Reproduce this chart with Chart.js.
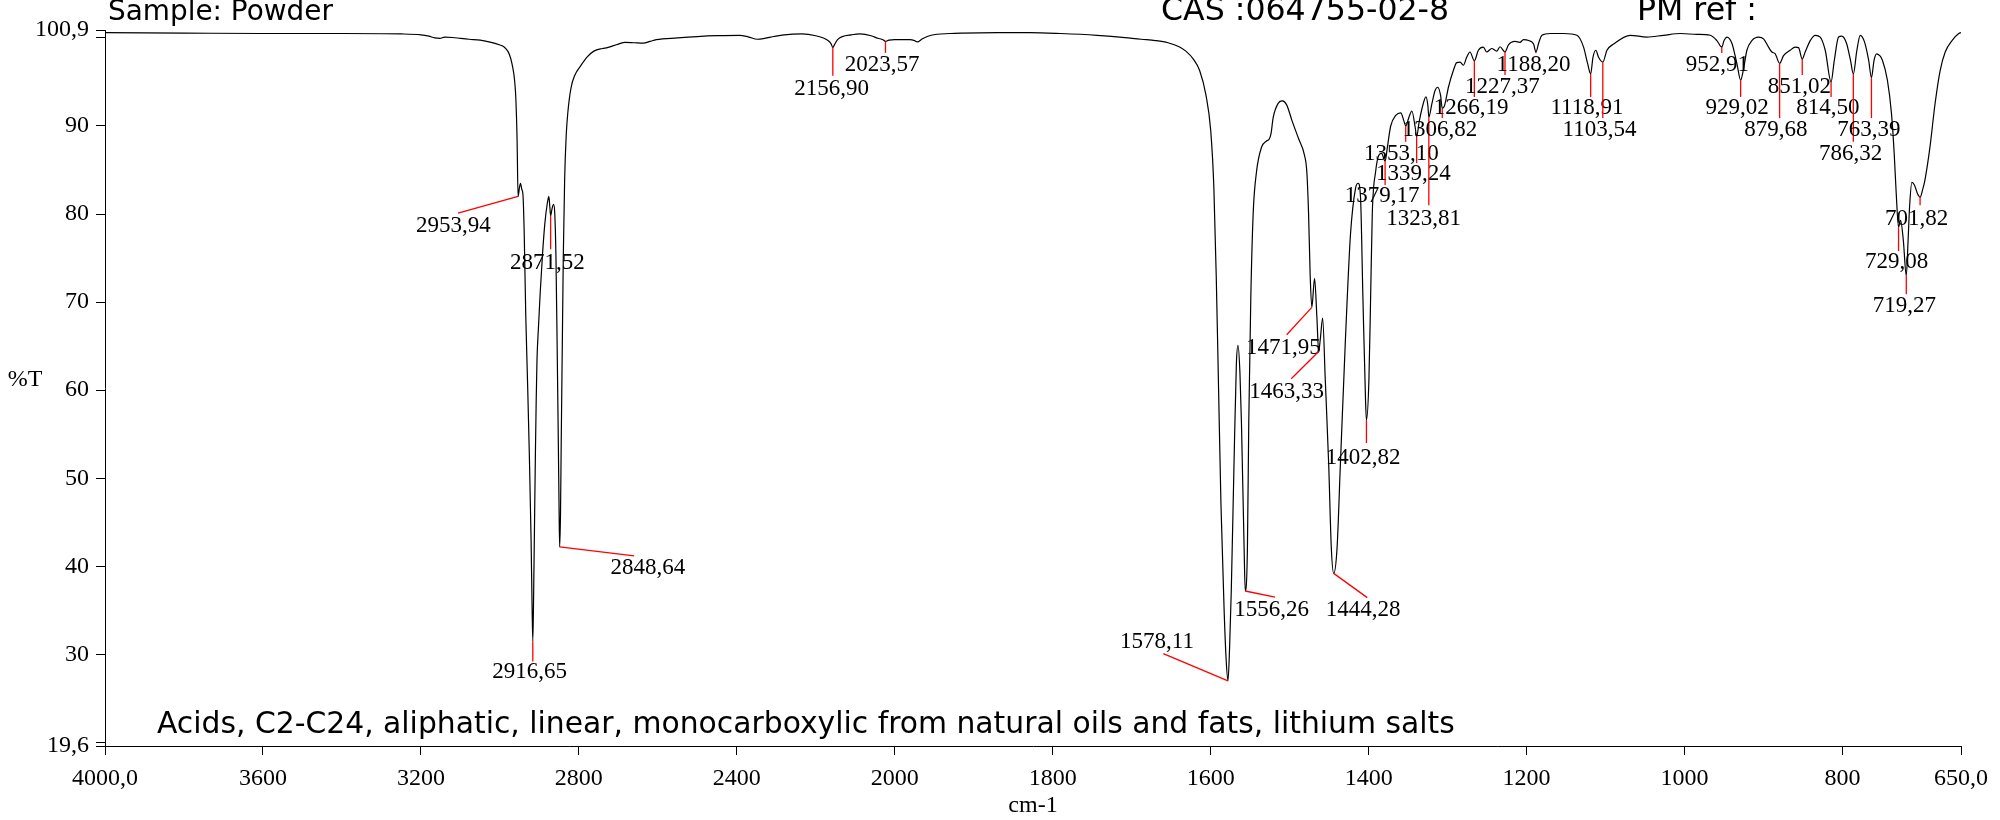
<!DOCTYPE html>
<html>
<head>
<meta charset="utf-8">
<script src="https://cdn.jsdelivr.net/npm/chart.js@4.4.0/dist/chart.umd.min.js"></script>
<style>
  html, body { margin: 0; padding: 0; background: #fff; }
  #c { display: block; }
</style>
</head>
<body>
<canvas id="c" width="2000" height="820"></canvas>
<script>
// IR spectrum (cm-1 / %T)
const WAVENUMBER = [
  4000, 3800, 3600, 3400, 3250, 3200, 3180, 3165, 3152, 3140, 3120, 3100, 3078, 3050, 3022, 3000,
  2990, 2980, 2975, 2970, 2965, 2962, 2959.5, 2956.5, 2953.94, 2950.5, 2947.8, 2944.5, 2941.6, 2938.5,
  2934.5, 2930, 2925.6, 2921, 2918.5, 2916.65, 2914.5, 2912, 2910, 2908, 2906, 2902.5, 2898, 2892,
  2886, 2880, 2876, 2873.5, 2871.52, 2868, 2864, 2861, 2858, 2855, 2852, 2850, 2848.64, 2846.5, 2844.5,
  2842, 2839.5, 2836, 2832, 2828, 2820, 2810, 2796, 2780, 2762, 2740, 2728, 2700, 2683, 2660, 2637,
  2620, 2604, 2550, 2500, 2450, 2393, 2370, 2348, 2330, 2314, 2280, 2235, 2200, 2179, 2166, 2161,
  2156.9, 2152, 2145, 2133, 2110, 2088, 2060, 2043, 2030, 2023.57, 2015, 2000, 1981, 1975, 1971.5,
  1965, 1954, 1930, 1914, 1870, 1829, 1790, 1744, 1715, 1688, 1670, 1654, 1640, 1631.5, 1622, 1614,
  1606, 1600, 1596, 1593, 1590, 1587, 1583, 1580.5, 1578.11, 1576, 1573.9, 1570.5, 1567.5, 1565.4,
  1563, 1561.1, 1557.7, 1556.26, 1553.5, 1551.8, 1549.2, 1546.2, 1542, 1535.6, 1529.3, 1526, 1523.7,
  1520.8, 1514.4, 1509.3, 1503.8, 1497.4, 1488.9, 1481.3, 1478.3, 1476.1, 1474, 1471.95, 1468.5,
  1465.5, 1463.33, 1461, 1458.3, 1454.9, 1450.6, 1447.3, 1444.28, 1440, 1435.8, 1429.4, 1423, 1416.7,
  1413.3, 1410.3, 1407.3, 1403.9, 1402.82, 1399.7, 1397.5, 1395.4, 1391.2, 1387, 1383.6, 1379.17,
  1376.3, 1372.1, 1365.7, 1359.3, 1355.1, 1353.1, 1349, 1345.3, 1341, 1339.24, 1336, 1331, 1327.5,
  1325, 1323.81, 1320, 1316, 1312.6, 1309, 1306.82, 1304, 1299, 1292.8, 1288.5, 1284.3, 1280.1,
  1275.9, 1271.7, 1266.19, 1261.1, 1254.8, 1250.6, 1244.2, 1237.9, 1233.7, 1227.37, 1223, 1214.7,
  1208.4, 1204, 1197.5, 1191.2, 1188.2, 1184.8, 1180.6, 1170, 1153, 1136.3, 1127.9, 1122.8, 1118.91,
  1116, 1112.4, 1108.9, 1103.54, 1098.3, 1089.9, 1068.8, 1047.7, 1026.6, 1005.5, 984.4, 967.6, 959.1,
  952.91, 950, 946.4, 940.1, 933.8, 929.02, 925.3, 921.1, 914.8, 906.3, 900, 893.7, 889.5, 885.2,
  879.68, 874.7, 866.3, 860, 855.7, 851.02, 847.3, 840.9, 834.6, 828.3, 821.9, 814.5, 810.5, 805, 801,
  795, 790, 786.32, 782, 777.6, 772, 767, 763.39, 760, 756.9, 753, 749.6, 743.2, 738, 734.6, 732,
  729.08, 726.5, 723, 719.27, 717, 715, 712.2, 709, 705, 701.82, 698.5, 695.8, 689.3, 682.9, 676.4,
  670, 661.4, 652.8, 650
];
const TRANSMITTANCE = [
  100.6, 100.55, 100.5, 100.5, 100.45, 100.35, 100.2, 100.0, 99.95, 100.1, 100.05, 99.95, 99.85, 99.75, 99.5, 99.2,
  99.0, 98.5, 98.0, 97.2, 96.0, 94.8, 93.0, 88.5, 82.0, 83.0, 83.5, 82.8, 82.2, 78.0,
  68.5, 61.0, 53.0, 43.0, 35.5, 31.5, 37.0, 46.0, 53.0, 59.0, 63.5, 67.0, 71.0, 75.5,
  79.0, 81.2, 82.0, 80.8, 79.8, 80.6, 81.1, 80.0, 75.0, 65.0, 54.0, 46.0, 42.2, 46.0, 55.0,
  65.0, 75.0, 84.0, 89.0, 91.5, 94.3, 95.8, 96.8, 97.8, 98.5, 98.8, 98.9, 99.3, 99.5, 99.45, 99.4,
  99.6, 99.8, 100.0, 100.15, 100.25, 100.3, 100.1, 99.85, 99.95, 100.1, 100.35, 100.45, 100.25, 99.96, 99.6, 99.3,
  98.9, 99.3, 99.8, 100.15, 100.35, 100.45, 100.25, 99.96, 99.8, 99.6, 99.75, 99.8, 99.8, 99.7, 99.55,
  99.9, 100.3, 100.5, 100.55, 100.6, 100.6, 100.5, 100.3, 100.1, 99.85, 99.7, 99.45, 99.0, 98.5, 97.6, 96.3,
  93.5, 89.5, 83.0, 73.0, 60.0, 47.0, 35.0, 29.5, 27.0, 31.0, 37.4, 51.6, 63.0, 65.1,
  62.0, 56.4, 42.1, 37.2, 42.1, 56.4, 70.6, 80.1, 84.8, 87.6, 88.3, 88.5, 89.1,
  91.0, 92.6, 92.85, 92.4, 90.7, 88.6, 86.7, 84.8, 80.1, 72.9, 69.4, 72.7,
  68.2, 64.4, 66.0, 68.2, 61.1, 51.6, 42.1, 39.2, 42.1, 51.6, 65.8, 77.7, 82.9,
  83.5, 81.9, 70.6, 58.7, 56.6, 61.1, 70.6, 80.1, 84.8, 86.7, 86.9, 86.0,
  87.6, 90.0, 91.2, 91.5, 90.5, 90.0, 91.0, 91.7, 89.8, 88.8, 90.5, 92.5, 93.3,
  92.3, 91.0, 92.5, 94.0, 94.4, 93.5, 92.0, 92.3, 94.4, 96.3, 97.2, 97.25, 96.9,
  97.8, 98.4, 97.4, 98.6, 98.96, 98.4, 98.8, 98.5, 99.0, 98.4, 99.2, 99.6,
  99.5, 99.8, 99.7, 99.3, 98.4, 99.4, 100.3, 100.5, 100.5, 100.3, 98.96, 97.1, 95.9,
  97.8, 98.6, 97.8, 97.25, 98.6, 99.3, 100.3, 100.1, 100.3, 100.5, 100.4, 100.3, 99.7,
  98.96, 99.7, 100.1, 99.4, 97.1, 95.2, 96.5, 98.6, 99.7, 100.1, 99.9, 98.96, 98.4, 98.2,
  97.1, 98.0, 98.6, 98.96, 98.9, 97.6, 98.4, 99.7, 100.3, 100.1, 98.6, 95.0, 97.4, 100.1, 100.2,
  99.4, 97.5, 95.9, 98.5, 100.3, 99.5, 97.5, 95.5, 97.5, 98.2, 98.0, 97.5, 95.2, 91.4, 86.9, 82.3,
  78.5, 79.3, 77.0, 73.0, 77.0, 81.0, 83.6, 83.3, 82.3, 81.9, 82.8, 83.8, 87.6, 92.5, 96.3,
  98.4, 99.7, 100.5, 100.6
];

// labelled peaks (cm-1)
const PEAKS = [
  2953.94, 2916.65, 2871.52, 2848.64, 2156.90, 2023.57, 1578.11, 1556.26, 1471.95, 1463.33, 1444.28,
  1402.82, 1379.17, 1353.10, 1339.24, 1323.81, 1306.82, 1266.19, 1227.37, 1188.20, 1118.91, 1103.54,
  952.91, 929.02, 879.68, 851.02, 814.50, 786.32, 763.39, 729.08, 719.27, 701.82
];

const X_TICKS = [4000, 3600, 3200, 2800, 2400, 2000, 1800, 1600, 1400, 1200, 1000, 800, 650];
const Y_TICKS = [100.9, 100, 90, 80, 70, 60, 50, 40, 30, 20, 19.6];

// leader line end + label centre for each peak, in cm-1 / %T (null = straight down)
const PEAK_LABEL_AT = [
  [3106, 80.1, 3118, 78.7], [null, 29.2, 2925, 28.0], [null, 76.0, 2880, 74.5], [2660, 41.2, 2625, 39.8],
  [null, 95.7, 2160, 94.2], [null, 98.3, 2032, 96.9], [1660, 30.1, 1668, 31.4], [1518.6, 36.5, 1523, 35.0],
  [1503.8, 66.3, 1508, 64.8], [1498, 61.3, 1504, 59.8], [1401.8, 36.45, 1407, 35.0], [null, 54.0, 1407, 52.3],
  [null, 83.3, 1383, 82.0], [null, 88.2, 1358.7, 86.8], [null, 85.8, 1343.5, 84.5], [null, 81.0, 1330.5, 79.5],
  [null, 90.9, 1309.7, 89.5], [null, 93.3, 1270.2, 92.0], [null, 95.8, 1230.7, 94.4], [null, 98.3, 1191.3, 96.9],
  [null, 93.3, 1123.6, 92.0], [null, 90.9, 1107.8, 89.5], [null, 98.3, 958.4, 96.9], [null, 93.3, 933.6, 92.0],
  [null, 90.9, 884.5, 89.5], [null, 95.8, 854.6, 94.4], [null, 93.3, 818.5, 92.0], [null, 88.2, 789.8, 86.8],
  [null, 90.9, 766.7, 89.5], [null, 75.8, 731.5, 74.6], [null, 70.9, 721.6, 69.6], [null, 81.0, 706.1, 79.5]
];

const SERIF = "'Liberation Serif', 'Times New Roman', serif";
const HAND = "'DejaVu Sans', sans-serif";

// the printout uses half scale above 2000 cm-1
function toAxis(w) { return w > 2000 ? 2000 + (w - 2000) / 2 : w; }
function fromAxis(u) { return u > 2000 ? 2000 + (u - 2000) * 2 : u; }
function comma(v, d) { return v.toFixed(d).replace(".", ","); }

function transAt(w) {
  for (let i = 1; i < WAVENUMBER.length; i++) {
    if (WAVENUMBER[i] <= w) {
      const w0 = WAVENUMBER[i - 1], w1 = WAVENUMBER[i];
      const t = (w0 - w) / (w0 - w1);
      return TRANSMITTANCE[i - 1] + t * (TRANSMITTANCE[i] - TRANSMITTANCE[i - 1]);
    }
  }
  return TRANSMITTANCE[TRANSMITTANCE.length - 1];
}

// write text left-aligned, squeezed/stretched to a given width; returns the size used
function fitText(ctx, txt, x, y, width, size) {
  ctx.font = `${size}px ${HAND}`;
  const s = Math.round(size * width / ctx.measureText(txt).width * 10) / 10;
  ctx.font = `${s}px ${HAND}`;
  ctx.fillText(txt, x, y);
  return s;
}

const decorations = {
  id: "decorations",
  afterDraw(chart) {
    const {ctx, scales: {x, y}} = chart;
    ctx.save();

    // peak markers
    ctx.lineWidth = 1.3;
    ctx.strokeStyle = "#ff0000";
    ctx.fillStyle = "#000";
    ctx.font = `23px ${SERIF}`;
    ctx.textAlign = "center";
    ctx.textBaseline = "middle";
    PEAKS.forEach((p, i) => {
      const [ew, et, lw, lt] = PEAK_LABEL_AT[i];
      const x0 = x.getPixelForValue(toAxis(p));
      const y0 = y.getPixelForValue(transAt(p));
      const x1 = x.getPixelForValue(toAxis(ew === null ? p : ew));
      const y1 = y.getPixelForValue(et);
      ctx.beginPath();
      ctx.moveTo(x0, y0);
      ctx.lineTo(x1, y1);
      ctx.stroke();
      ctx.fillText(comma(p, 2), x.getPixelForValue(toAxis(lw)), y.getPixelForValue(lt));
    });

    // axis names
    ctx.font = `24px ${SERIF}`;
    ctx.fillText("%T", 25, (chart.chartArea.top + chart.chartArea.bottom) / 2 - 8);
    ctx.fillText("cm-1", (chart.chartArea.left + chart.chartArea.right) / 2, 806);

    // header + compound name
    ctx.textAlign = "left";
    ctx.textBaseline = "alphabetic";
    fitText(ctx, "Sample: Powder", 108, 20, 225, 28);
    const cas = fitText(ctx, "CAS :064755-02-8", 1161, 20, 288, 28);
    ctx.font = `${cas}px ${HAND}`;
    ctx.fillText("PM ref :", 1637, 20);
    fitText(ctx, "Acids, C2-C24, aliphatic, linear, monocarboxylic from natural oils and fats, lithium salts", 157, 733, 1297, 28);

    ctx.restore();
  }
};

const axisLine = { display: true, color: "#000", width: 1 };
const tickMarks = { display: true, drawOnChartArea: false, drawTicks: true, tickLength: 9, color: "#000", lineWidth: 1 };

new Chart(document.getElementById("c"), {
  type: "line",
  data: {
    datasets: [{
      data: WAVENUMBER.map((w, i) => ({ x: toAxis(w), y: TRANSMITTANCE[i] })),
      borderColor: "#000",
      borderWidth: 1.2,
      pointRadius: 0,
      fill: false,
      cubicInterpolationMode: "monotone"
    }]
  },
  options: {
    responsive: false,
    animation: false,
    devicePixelRatio: 1,
    layout: { padding: { top: 30, right: 39, left: 0, bottom: 0 } },
    plugins: { legend: { display: false }, tooltip: { enabled: false } },
    scales: {
      x: {
        type: "linear",
        reverse: true,
        min: 650,
        max: 3000,
        afterBuildTicks: (s) => { s.ticks = X_TICKS.map(w => ({ value: toAxis(w) })); },
        afterFit: (s) => { s.height = 74; },
        border: axisLine,
        grid: tickMarks,
        ticks: {
          autoSkip: false,
          maxRotation: 0,
          padding: 9,
          color: "#000",
          font: { family: SERIF, size: 24 },
          callback: (v) => {
            const w = fromAxis(v);
            return (w === 4000 || w === 650) ? comma(w, 1) : String(w);
          }
        }
      },
      y: {
        type: "linear",
        min: 19.6,
        max: 100.9,
        afterBuildTicks: (s) => { s.ticks = Y_TICKS.map(v => ({ value: v })); },
        afterFit: (s) => { s.width = 105; },
        border: axisLine,
        grid: tickMarks,
        ticks: {
          autoSkip: false,
          padding: 7,
          color: "#000",
          font: { family: SERIF, size: 24 },
          callback: (v) => {
            if (v === 100 || v === 20) return "";
            return Number.isInteger(v) ? String(v) : comma(v, 1);
          }
        }
      }
    }
  },
  plugins: [decorations]
});
</script>
</body>
</html>
